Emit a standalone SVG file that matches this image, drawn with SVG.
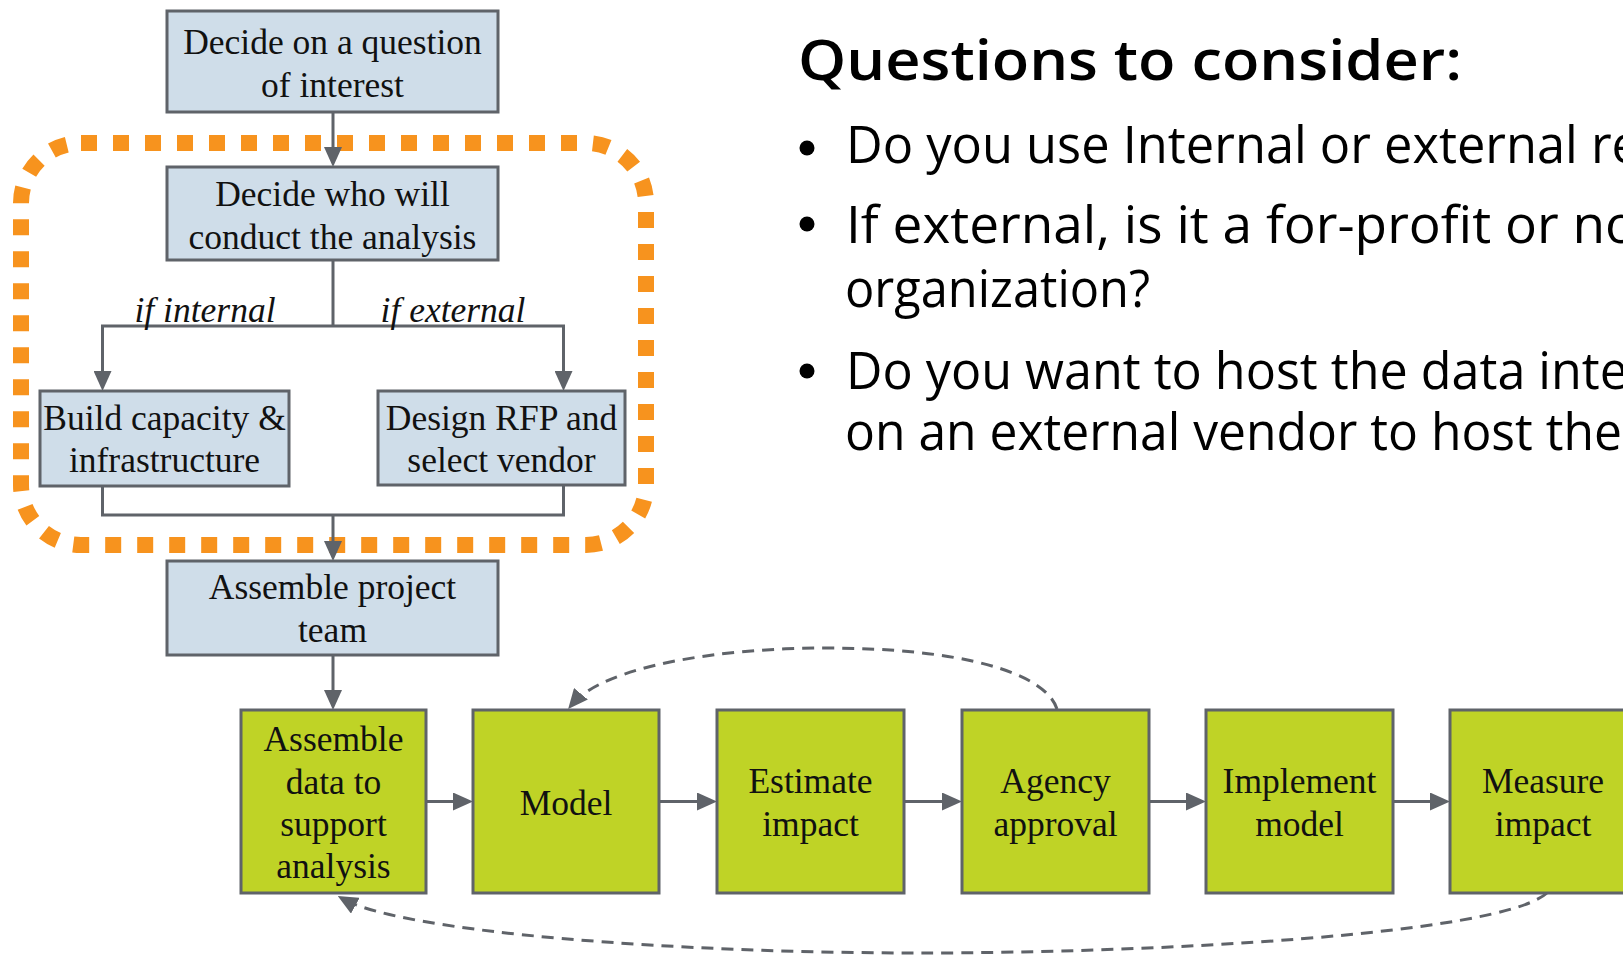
<svg xmlns="http://www.w3.org/2000/svg" width="1623" height="955" viewBox="0 0 1623 955">
<style>
.box{stroke:#5f6369;stroke-width:3}
.blue{fill:#cfdde9}
.green{fill:#bfd326}
.t{font-family:"Liberation Serif","Times New Roman",serif;font-size:35.5px;fill:#111;text-anchor:middle}
.it{font-style:italic}
.conn{fill:none;stroke:#5f6369;stroke-width:3}
.dash{stroke-dasharray:12 8}
.s{font-family:"Open Sans","Noto Sans","Liberation Sans",sans-serif;fill:#000}
.body{font-size:51px;font-weight:500}
.title{font-size:56px;font-weight:600}
</style>
<defs>
<marker id="arr" markerUnits="userSpaceOnUse" markerWidth="20" markerHeight="18" refX="14" refY="9" orient="auto"><path d="M0,0 L20,9 L0,18 z" fill="#5f6369"/></marker>
</defs>

<g id="orange-boundary">
<rect x="21" y="143" width="625" height="402" rx="60" ry="60" fill="none" stroke="#f7931e" stroke-width="16" stroke-dasharray="16 16"/>
</g>

<g id="connectors">
<path class="conn" d="M333,112 V161" marker-end="url(#arr)"/>
<path class="conn" d="M333,260 V326"/>
<path class="conn" d="M333,326 H102.5 V385" marker-end="url(#arr)"/>
<path class="conn" d="M333,326 H563.5 V385" marker-end="url(#arr)"/>
<path class="conn" d="M102.5,486 V515 H563.5 V485"/>
<path class="conn" d="M333,515 V555" marker-end="url(#arr)"/>
<path class="conn" d="M333,655 V704" marker-end="url(#arr)"/>
<path class="conn" d="M426,801.5 H467" marker-end="url(#arr)"/>
<path class="conn" d="M659,801.5 H711" marker-end="url(#arr)"/>
<path class="conn" d="M904,801.5 H956" marker-end="url(#arr)"/>
<path class="conn" d="M1149,801.5 H1200" marker-end="url(#arr)"/>
<path class="conn" d="M1393,801.5 H1444" marker-end="url(#arr)"/>
<path class="conn dash" d="M1057,709 C1045,672 960,648 825,648 C720,648 604,666 572,704.5" marker-end="url(#arr)"/>
<path class="conn dash" d="M1547,893 C1500,935 1150,953 920,953 C680,953 405,933 343,899" marker-end="url(#arr)"/>
</g>

<g id="n-question">
<rect class="box blue" x="167" y="11" width="331" height="101"/>
<text class="t" x="332.5" y="54">Decide on a question</text>
<text class="t" x="332.5" y="96.5">of interest</text>
</g>
<g id="n-who">
<rect class="box blue" x="167" y="167" width="331" height="93"/>
<text class="t" x="332.5" y="206">Decide who will</text>
<text class="t" x="332.5" y="248.5">conduct the analysis</text>
</g>
<g id="label-internal"><text class="t it" x="205" y="322">if internal</text></g>
<g id="label-external"><text class="t it" x="453" y="322">if external</text></g>
<g id="n-build">
<rect class="box blue" x="40" y="391" width="249" height="95"/>
<text class="t" x="164.5" y="430">Build capacity &amp;</text>
<text class="t" x="164.5" y="472">infrastructure</text>
</g>
<g id="n-rfp">
<rect class="box blue" x="378" y="391" width="247" height="94"/>
<text class="t" x="501.5" y="430">Design RFP and</text>
<text class="t" x="501.5" y="472">select vendor</text>
</g>
<g id="n-team">
<rect class="box blue" x="167" y="561" width="331" height="94"/>
<text class="t" x="332.5" y="599">Assemble project</text>
<text class="t" x="332.5" y="642">team</text>
</g>

<g id="n-data">
<rect class="box green" x="241" y="710" width="185" height="183"/>
<text class="t" x="333.5" y="751">Assemble</text>
<text class="t" x="333.5" y="793.5">data to</text>
<text class="t" x="333.5" y="836">support</text>
<text class="t" x="333.5" y="878">analysis</text>
</g>
<g id="n-model">
<rect class="box green" x="473" y="710" width="186" height="183"/>
<text class="t" x="566" y="815">Model</text>
</g>
<g id="n-estimate">
<rect class="box green" x="717" y="710" width="187" height="183"/>
<text class="t" x="810.5" y="793">Estimate</text>
<text class="t" x="810.5" y="835.5">impact</text>
</g>
<g id="n-agency">
<rect class="box green" x="962" y="710" width="187" height="183"/>
<text class="t" x="1055.5" y="793">Agency</text>
<text class="t" x="1055.5" y="835.5">approval</text>
</g>
<g id="n-implement">
<rect class="box green" x="1206" y="710" width="187" height="183"/>
<text class="t" x="1299.5" y="793">Implement</text>
<text class="t" x="1299.5" y="835.5">model</text>
</g>
<g id="n-measure">
<rect class="box green" x="1450" y="710" width="186" height="183"/>
<text class="t" x="1543" y="793">Measure</text>
<text class="t" x="1543" y="835.5">impact</text>
</g>

<g id="questions">
<text class="s title" x="798" y="80" textLength="664" lengthAdjust="spacingAndGlyphs">Questions to consider:</text>
<circle cx="807" cy="148" r="7.5" fill="#000"/>
<text class="s body" x="846" y="162.7" textLength="794" lengthAdjust="spacingAndGlyphs">Do you use Internal or external re</text>
<circle cx="807" cy="224" r="7.5" fill="#000"/>
<text class="s body" x="846" y="242.7" textLength="791" lengthAdjust="spacingAndGlyphs">If external, is it a for-profit or no</text>
<text class="s body" x="845" y="306.7" textLength="305" lengthAdjust="spacingAndGlyphs">organization?</text>
<circle cx="807" cy="371" r="7.5" fill="#000"/>
<text class="s body" x="846" y="388.5" textLength="782" lengthAdjust="spacingAndGlyphs">Do you want to host the data inte</text>
<text class="s body" x="845" y="450" textLength="777" lengthAdjust="spacingAndGlyphs">on an external vendor to host the</text>
</g>
</svg>
